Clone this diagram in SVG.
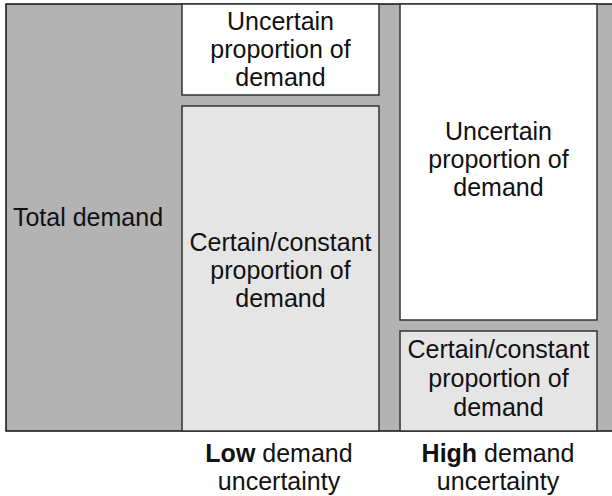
<svg xmlns="http://www.w3.org/2000/svg" width="612" height="496" viewBox="0 0 612 496">
<style>
text{font-family:"Liberation Sans",Arial,sans-serif;font-size:25px;fill:#111;text-anchor:middle}
.bg{fill:#b3b3b3;stroke:#111;stroke-width:1.5}
.w{fill:#fff;stroke:#333;stroke-width:1.5}
.g{fill:#e5e5e5;stroke:#333;stroke-width:1.5}
</style>
<rect x="0" y="0" width="612" height="496" fill="#fff"/>
<g id="total">
<rect class="bg" x="6" y="4" width="620" height="427"/>
<text x="88" y="226">Total demand</text>
</g>
<g id="low-uncertain">
<rect class="w" x="182" y="4" width="197" height="91"/>
<text x="280.5" y="30">Uncertain</text>
<text x="280.5" y="58">proportion of</text>
<text x="280.5" y="86">demand</text>
</g>
<g id="low-certain">
<rect class="g" x="182" y="106" width="197" height="325"/>
<text x="280.5" y="251">Certain/constant</text>
<text x="280.5" y="279">proportion of</text>
<text x="280.5" y="307">demand</text>
</g>
<g id="high-uncertain">
<rect class="w" x="400" y="4" width="197" height="316"/>
<text x="498.5" y="140">Uncertain</text>
<text x="498.5" y="168">proportion of</text>
<text x="498.5" y="196">demand</text>
</g>
<g id="high-certain">
<rect class="g" x="400" y="331" width="197" height="100"/>
<text x="498.5" y="358">Certain/constant</text>
<text x="498.5" y="387">proportion of</text>
<text x="498.5" y="416">demand</text>
</g>
<g id="labels">
<text x="279" y="462"><tspan font-weight="bold">Low</tspan> demand</text>
<text x="279" y="490">uncertainty</text>
<text x="498" y="462"><tspan font-weight="bold">High</tspan> demand</text>
<text x="498" y="490">uncertainty</text>
</g>
<g id="connectors"></g>
</svg>
